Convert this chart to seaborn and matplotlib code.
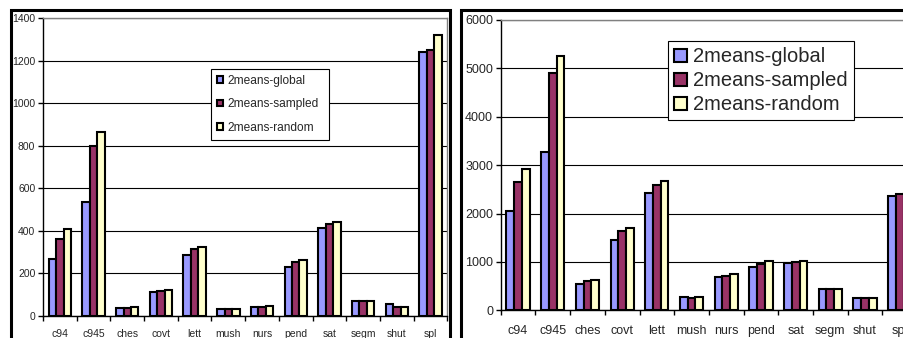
import numpy as np
import pandas as pd
import matplotlib
matplotlib.use("Agg")
import matplotlib.pyplot as plt
import matplotlib.patches as mpatches
from matplotlib.ticker import MultipleLocator, FixedLocator
import seaborn as sns

datasets = ["c94", "c945", "ches", "covt", "lett", "mush", "nurs",
            "pend", "sat", "segm", "shut", "spl"]
methods = ["2means-global", "2means-sampled", "2means-random"]
colors = ["#9999FF", "#993366", "#FFFFCC"]

# left chart
left_global = [265, 533, 37, 111, 285, 30, 42, 229, 412, 69, 53, 1239]
left_sampled = [363, 798, 37, 114, 315, 30, 41, 251, 431, 69, 42, 1248]
left_random = [406, 863, 42, 121, 324, 31, 45, 262, 439, 69, 42, 1322]

# right chart
right_global = [2047, 3273, 544, 1453, 2431, 275, 695, 901, 972, 447, 261, 2369]
right_sampled = [2659, 4900, 600, 1640, 2590, 250, 709, 957, 992, 447, 260, 2398]
right_random = [2930, 5264, 626, 1708, 2673, 275, 750, 1019, 1019, 447, 260, 2430]

sns.set_style("white")
plt.rcParams["font.family"] = ["Liberation Sans", "DejaVu Sans"]

W, H = 904, 338
fig = plt.figure(figsize=(W / 100, H / 100), dpi=100)


def fx(px):
    return px / W


def fy(py):
    return 1 - py / H


def draw_panel(ax, series, ymax, step, fs, xpad):
    df = pd.DataFrame({
        "dataset": datasets * 3,
        "method": np.repeat(methods, len(datasets)),
        "value": series[0] + series[1] + series[2],
    })
    sns.barplot(data=df, x="dataset", y="value", hue="method",
                order=datasets, hue_order=methods, palette=colors,
                saturation=1, width=3 / 4.5, gap=0, edgecolor="black",
                linewidth=1.5, errorbar=None, legend=False, ax=ax)
    ax.set_xlim(-0.5, len(datasets) - 0.5)
    ax.set_ylim(0, ymax)
    ax.set_axisbelow(True)
    ax.yaxis.set_major_locator(MultipleLocator(step))
    ax.grid(axis="y", color="black", linewidth=0.8)
    ax.grid(axis="x", visible=False)
    ax.set_xlabel("")
    ax.set_ylabel("")
    for side in ("top", "right"):
        ax.spines[side].set_color("#808080")
        ax.spines[side].set_linewidth(1.0)
    for side in ("left", "bottom"):
        ax.spines[side].set_color("black")
        ax.spines[side].set_linewidth(1.0)
    ax.xaxis.set_minor_locator(FixedLocator(np.arange(-0.5, len(datasets), 1.0)))
    ax.tick_params(axis="x", which="major", length=0, pad=xpad, labelsize=fs)
    ax.tick_params(axis="x", which="minor", length=3.5, width=1, color="black",
                   direction="out", bottom=True)
    ax.tick_params(axis="y", which="major", length=3.5, width=1, color="black",
                   direction="out", left=True, pad=2, labelsize=fs)


ax1 = fig.add_axes([fx(43), fy(315.7), fx(447.4 - 43), (315.7 - 18) / H])
draw_panel(ax1, [left_global, left_sampled, left_random], 1400, 200, 7.5, 9.3)

ax2 = fig.add_axes([fx(500.7), fy(310.3), fx(12 * 34.7), (310.3 - 20) / H])
draw_panel(ax2, [right_global, right_sampled, right_random], 6000, 1000, 9, 10.5)


def handles():
    return [mpatches.Patch(facecolor=c, edgecolor="black", linewidth=1.5)
            for c in colors]


leg1 = fig.legend(handles(), methods, loc="upper left",
                  bbox_to_anchor=(fx(210.7), fy(69), fx(329.3 - 210.7), 0.0),
                  mode="expand", fontsize=8.6, frameon=True, fancybox=False,
                  edgecolor="black", framealpha=1, borderpad=0.5,
                  handlelength=0.5, handleheight=0.5, handletextpad=0.4,
                  labelspacing=0.95, borderaxespad=0)
leg1.get_frame().set_linewidth(0.8)

leg2 = fig.legend(handles(), methods, loc="upper left",
                  bbox_to_anchor=(fx(668.3), fy(41.3), fx(854.3 - 668.3), 0.0),
                  mode="expand", fontsize=14.5, frameon=True, fancybox=False,
                  edgecolor="black", framealpha=1, borderpad=0.3,
                  handlelength=0.65, handleheight=0.65, handletextpad=0.3,
                  labelspacing=0.25, borderaxespad=0)
leg2.get_frame().set_linewidth(0.8)

# outer chart frames
fig.add_artist(mpatches.Rectangle((fx(10.5), -0.1), fx(450 - 10.5), fy(9.5) + 0.1,
                                  transform=fig.transFigure, fill=False,
                                  edgecolor="black", linewidth=2.2))
fig.add_artist(mpatches.Rectangle((fx(461.5), -0.1), 0.6, fy(9.5) + 0.1,
                                  transform=fig.transFigure, fill=False,
                                  edgecolor="black", linewidth=2.2))

fig.savefig("out.png", dpi=100)
